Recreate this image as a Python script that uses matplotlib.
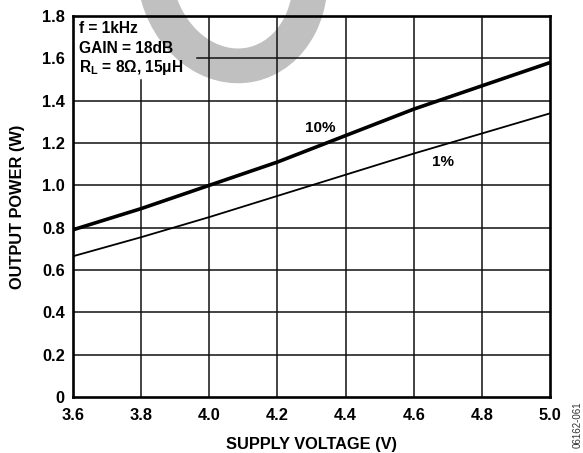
#!/usr/bin/env python3
"""Output power vs supply voltage, 1 kHz, 18 dB gain, 8 ohm + 15 uH load."""

import matplotlib

matplotlib.use("Agg")
import matplotlib.pyplot as plt
from matplotlib.patches import Ellipse

# supply voltage (V) and output power (W)
supply_v = [3.6, 3.8, 4.0, 4.2, 4.4, 4.6, 4.8, 5.0]
pout_thd10 = [0.79, 0.89, 1.00, 1.11, 1.235, 1.36, 1.47, 1.58]
pout_thd1 = [0.665, 0.755, 0.85, 0.95, 1.05, 1.15, 1.245, 1.34]

x_ticks = [3.6, 3.8, 4.0, 4.2, 4.4, 4.6, 4.8, 5.0]
x_labels = ["3.6", "3.8", "4.0", "4.2", "4.4", "4.6", "4.8", "5.0"]
y_ticks = [0, 0.2, 0.4, 0.6, 0.8, 1.0, 1.2, 1.4, 1.6, 1.8]
y_labels = ["0", "0.2", "0.4", "0.6", "0.8", "1.0", "1.2", "1.4", "1.6", "1.8"]

conditions = ["f = 1kHz", "GAIN = 18dB", r"R$\mathregular{_L}$ = 8Ω, 15μH"]
fig_code = "06162-061"

# white area behind the condition text (gridlines stop at its edge)
BOX_X = 3.964
BOX_Y = 1.50

plt.rcParams["font.family"] = ["Liberation Sans", "DejaVu Sans"]
plt.rcParams["font.weight"] = "bold"

fig = plt.figure(figsize=(5.83, 4.53), dpi=100)
ax = fig.add_axes([73 / 583, 1 - 397 / 453, 477 / 583, 381 / 453])
ax.set_xlim(3.6, 5.0)
ax.set_ylim(0, 1.8)

# grey ring watermark sitting behind the grid
ring = Ellipse((2.32, 4.80), 1.55, 1.87, angle=12, fill=False,
               edgecolor="#c0c0c0", linewidth=25,
               transform=fig.dpi_scale_trans, clip_on=False, zorder=0.5)
ax.add_patch(ring)

grid_kw = dict(color="#111111", linewidth=1.1, zorder=1)
for xv in x_ticks[1:-1]:
    top = BOX_Y if xv < BOX_X else 1.8
    ax.plot([xv, xv], [0, top], **grid_kw)
for yv in y_ticks[1:-1]:
    left = BOX_X if yv > BOX_Y else 3.6
    ax.plot([left, 5.0], [yv, yv], **grid_kw)

ax.plot(supply_v, pout_thd10, color="black", linewidth=2.6, zorder=3)
ax.plot(supply_v, pout_thd1, color="black", linewidth=1.3, zorder=3)
ax.text(4.325, 1.272, "10%", fontsize=11, fontweight="bold", ha="center", va="center")
ax.text(4.685, 1.11, "1%", fontsize=11, fontweight="bold", ha="center", va="center")

for i, line in enumerate(conditions):
    ax.text(0.012, 0.966 - i * 0.05, line, transform=ax.transAxes,
            fontsize=11.2, fontweight="bold", ha="left", va="center", zorder=4)

for side in ax.spines.values():
    side.set_linewidth(1.9)
    side.set_zorder(4)

ax.set_xticks(x_ticks)
ax.set_xticklabels(x_labels)
ax.set_yticks(y_ticks)
ax.set_yticklabels(y_labels)
ax.tick_params(axis="both", length=0, labelsize=11.8)
ax.tick_params(axis="x", pad=8)
ax.tick_params(axis="y", pad=6)
for lbl in ax.get_xticklabels() + ax.get_yticklabels():
    lbl.set_fontweight("bold")

ax.set_xlabel("SUPPLY VOLTAGE (V)", fontsize=11.8, fontweight="bold", labelpad=10)
ax.set_ylabel("OUTPUT POWER (W)", fontsize=11.8, fontweight="bold", labelpad=12)

fig.text(578 / 583, 1 - 425 / 453, fig_code, rotation=90, fontsize=7,
         fontweight="normal", color="#333333", ha="center", va="center")

fig.savefig("out.png", dpi=100)
plt.close(fig)
